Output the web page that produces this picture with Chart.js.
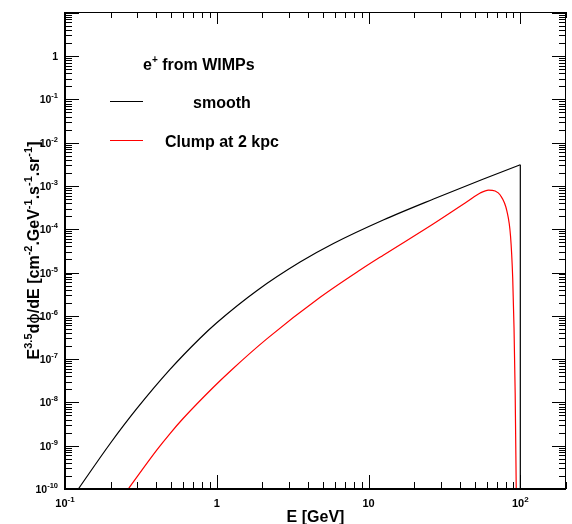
<!DOCTYPE html>
<html>
<head>
<meta charset="utf-8">
<script src="https://cdn.jsdelivr.net/npm/chart.js@4.4.0/dist/chart.umd.min.js"></script>
<style>
  html, body { margin: 0; padding: 0; background: #fff; }
  canvas { display: block; }
</style>
</head>
<body>
<canvas id="plot" width="572" height="524"></canvas>
<script>
// smooth halo curve (E in GeV, E^3.5 dphi/dE)
const smoothE = [0.1224, 0.198, 0.297, 0.492, 0.776, 1.0, 1.835, 3.54, 5.87, 12.5, 26.8, 57.2, 100];
const smoothF = [1e-10, 1.11e-9, 7.15e-9, 5.78e-8, 3.04e-7, 6.93e-7, 3.8e-6, 1.74e-5, 4.67e-5, 1.63e-4, 4.98e-4, 1.44e-3, 3.09e-3];
// cutoff of the smooth curve at the WIMP mass
const cutoffE = [100, 100];
const cutoffF = [3.09e-3, 1e-10];
// clump at 2 kpc
const clumpE = [0.261, 0.402, 0.492, 0.602, 0.950, 1.256, 2.136, 4.80, 8.80, 12.5, 26.8, 44.5, 54.4, 61.7, 68.3, 73.7, 81.6, 86.2, 89.1, 90.9, 92.5, 94.0];
const clumpF = [1e-10, 7.9e-10, 1.91e-9, 4.3e-9, 2.24e-8, 5.69e-8, 2.93e-7, 2.67e-6, 1.14e-5, 2.51e-5, 1.34e-4, 4.32e-4, 6.86e-4, 8.03e-4, 7.62e-4, 6.17e-4, 2.63e-4, 6.97e-5, 7.46e-6, 5.22e-7, 1.65e-8, 1e-10];

const xMajor = [0.1, 1, 10, 100];
const xLabels = [['10', '-1'], ['1', ''], ['10', ''], ['10', '2']];
const yExps = [-10, -9, -8, -7, -6, -5, -4, -3, -2, -1, 0];

const FONT = '"Liberation Sans", Arial, Helvetica, sans-serif';

function pts(xs, ys) { return xs.map((x, i) => ({ x: x, y: ys[i] })); }

// draw a run of text pieces; kind 0 normal, 1 superscript, 2 greek (thin)
function richText(ctx, parts, x, y, align, size, supSize, raise) {
  const fontOf = k => k === 1 ? `bold ${supSize}px ${FONT}` : k === 2 ? `${size}px "DejaVu Sans", sans-serif` : `bold ${size}px ${FONT}`;
  let w = 0;
  parts.forEach(p => { ctx.font = fontOf(p[1]); w += ctx.measureText(p[0]).width; });
  let cx = align === 'center' ? x - w / 2 : align === 'right' ? x - w : x;
  ctx.textAlign = 'left';
  ctx.textBaseline = 'alphabetic';
  parts.forEach(p => {
    ctx.font = fontOf(p[1]);
    ctx.fillText(p[0], cx, p[1] === 1 ? y - raise : y);
    cx += ctx.measureText(p[0]).width;
  });
}

const frame = {
  id: 'frame',
  afterDraw(chart) {
    const ctx = chart.ctx, a = chart.chartArea;
    const xs = chart.scales.x, ys = chart.scales.y;
    ctx.save();
    ctx.fillStyle = '#000';
    ctx.strokeStyle = '#000';

    // frame
    ctx.lineWidth = 1;
    ctx.beginPath();
    ctx.moveTo(a.left, a.top + 0.5); ctx.lineTo(a.right, a.top + 0.5);
    ctx.moveTo(a.right - 0.5, a.top); ctx.lineTo(a.right - 0.5, a.bottom);
    ctx.stroke();
    ctx.lineWidth = 2;
    ctx.beginPath();
    ctx.moveTo(a.left, a.top); ctx.lineTo(a.left, a.bottom); ctx.lineTo(a.right, a.bottom);
    ctx.stroke();

    // ticks
    ctx.lineWidth = 1;
    ctx.beginPath();
    for (let e = -1; e <= 2; e++) {
      for (let m = 1; m <= 9; m++) {
        const v = m * Math.pow(10, e);
        if (v < xs.min || v > xs.max) continue;
        const px = Math.round(xs.getPixelForValue(v)) + 0.5;
        const len = m === 1 ? 14 : 7;
        ctx.moveTo(px, a.bottom); ctx.lineTo(px, a.bottom - len);
        ctx.moveTo(px, a.top); ctx.lineTo(px, a.top + (m === 1 ? 12 : 6));
      }
    }
    for (let e = -10; e <= 1; e++) {
      for (let m = 1; m <= 9; m++) {
        const v = m * Math.pow(10, e);
        if (v < ys.min || v > ys.max) continue;
        const py = Math.round(ys.getPixelForValue(v)) + 0.5;
        const len = m === 1 ? 14 : 7;
        ctx.moveTo(a.left, py); ctx.lineTo(a.left + len, py);
        ctx.moveTo(a.right, py); ctx.lineTo(a.right - len, py);
      }
    }
    ctx.stroke();

    // x tick labels
    xMajor.forEach((v, i) => {
      const px = xs.getPixelForValue(v);
      richText(ctx, [[xLabels[i][0], 0], [xLabels[i][1], 1]], px, a.bottom + 18, 'center', 11, 8, 5);
    });
    // y tick labels
    yExps.forEach(e => {
      const py = ys.getPixelForValue(Math.pow(10, e));
      const parts = e === 0 ? [['1', 0]] : [['10', 0], [String(e), 1]];
      richText(ctx, parts, a.left - 7, py + 4, 'right', 10.5, 7.5, 5);
    });

    // axis titles
    richText(ctx, [['E [GeV]', 0]], (a.left + a.right) / 2, 522, 'center', 16, 11, 7);
    ctx.save();
    ctx.translate(39, (a.top + a.bottom) / 2);
    ctx.rotate(-Math.PI / 2);
    richText(ctx, [['E', 0], ['3.5', 1], ['d', 0], ['\u03D5', 2], ['/dE [cm', 0], ['-2', 1], ['.GeV', 0], ['-1', 1],
      ['.s', 0], ['-1', 1], ['.sr', 0], ['-1', 1], [']', 0]], 0, 0, 'center', 16, 11, 7);
    ctx.restore();

    // legend
    richText(ctx, [['e', 0], ['+', 1], [' from WIMPs', 0]], 143, 69.5, 'left', 16, 10, 7);
    ctx.lineWidth = 1;
    ctx.strokeStyle = '#000';
    ctx.beginPath(); ctx.moveTo(110, 101.5); ctx.lineTo(143, 101.5); ctx.stroke();
    ctx.strokeStyle = '#ff0000';
    ctx.beginPath(); ctx.moveTo(110, 140.5); ctx.lineTo(143, 140.5); ctx.stroke();
    richText(ctx, [['smooth', 0]], 193, 108, 'left', 16, 10, 7);
    richText(ctx, [['Clump at 2 kpc', 0]], 165, 146.5, 'left', 16, 10, 7);
    ctx.restore();
  }
};

new Chart(document.getElementById('plot'), {
  type: 'line',
  data: {
    datasets: [
      { label: 'smooth', data: pts(smoothE, smoothF), borderColor: '#000', borderWidth: 1.2, cubicInterpolationMode: 'monotone' },
      { label: 'smooth cutoff', data: pts(cutoffE, cutoffF), borderColor: '#000', borderWidth: 1.2, tension: 0 },
      { label: 'Clump at 2 kpc', data: pts(clumpE, clumpF), borderColor: '#ff0000', borderWidth: 1.2, cubicInterpolationMode: 'monotone' }
    ]
  },
  options: {
    responsive: false,
    animation: false,
    devicePixelRatio: 1,
    layout: { padding: { left: 65, right: 6, top: 12, bottom: 35 } },
    elements: { point: { radius: 0 } },
    plugins: { legend: { display: false }, tooltip: { enabled: false } },
    scales: {
      x: { type: 'logarithmic', min: 0.1, max: 200, display: false },
      y: { type: 'logarithmic', min: 1e-10, max: 10.4, display: false }
    }
  },
  plugins: [frame]
});
</script>
</body>
</html>
